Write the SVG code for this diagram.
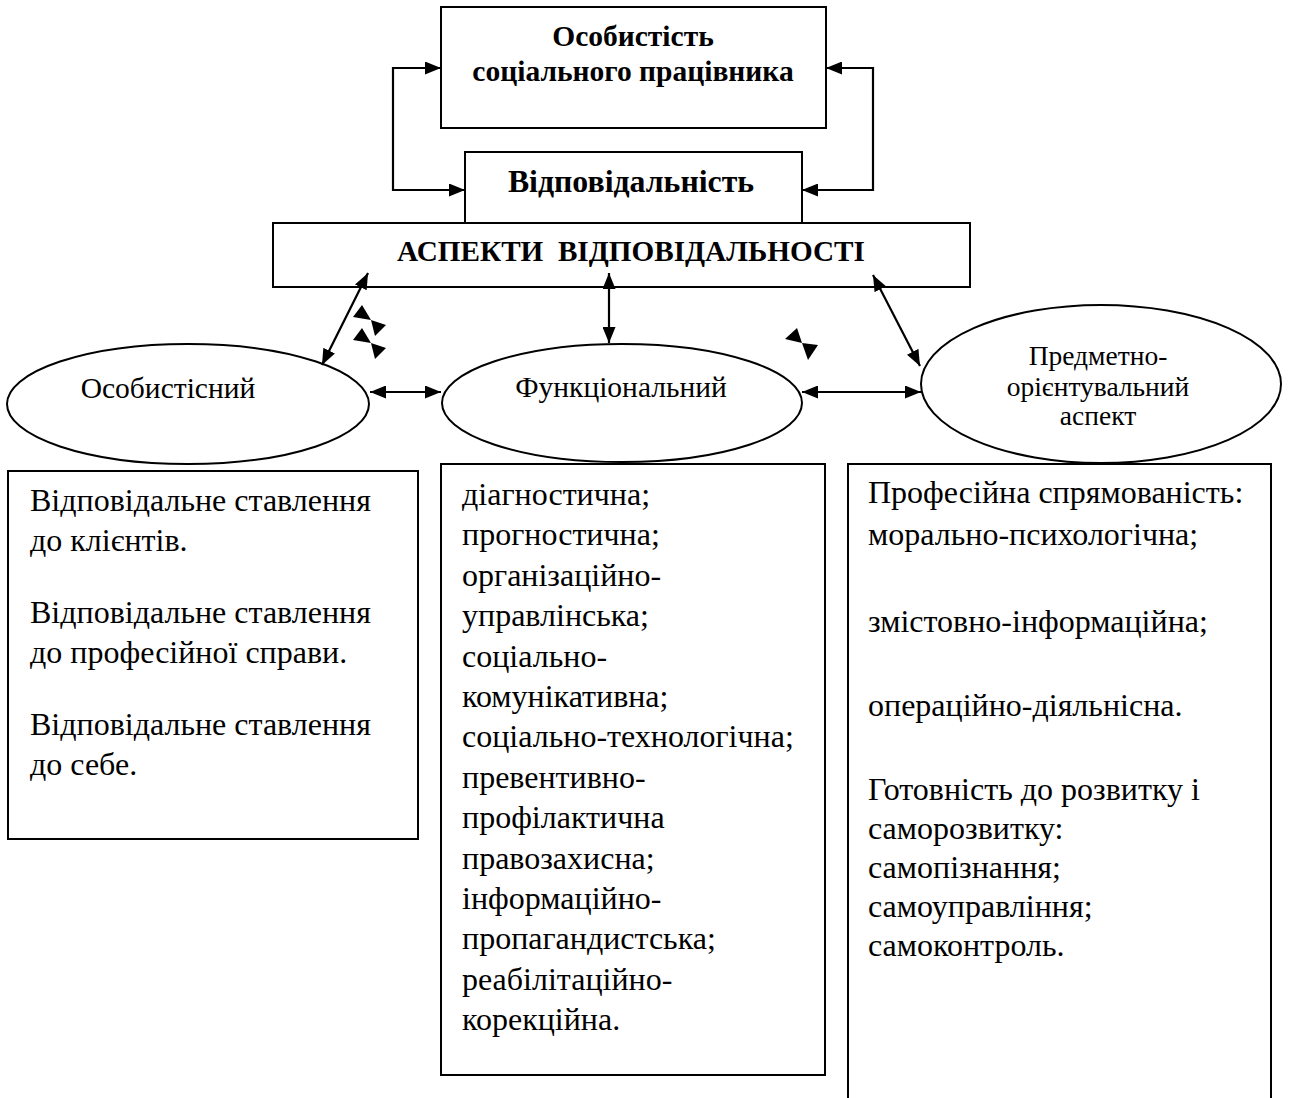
<svg xmlns="http://www.w3.org/2000/svg" width="1294" height="1098" viewBox="0 0 1294 1098">
<style>
.box{fill:#fff;stroke:#000;stroke-width:2}
.ell{fill:#fff;stroke:#000;stroke-width:2}
.t{font-family:"Liberation Serif","Times New Roman",serif;fill:#000}
.b{font-weight:bold;text-anchor:middle}
.body{font-size:32px}
.el{font-size:29.5px;text-anchor:middle}
.els{font-size:27.5px;text-anchor:middle}
.c{fill:none;stroke:#000;stroke-width:2.2}
.bt{fill:#000}
</style>
<defs>
<marker id="ah" viewBox="0 0 16 13" refX="16" refY="6.5" markerWidth="16" markerHeight="13" markerUnits="userSpaceOnUse" orient="auto-start-reverse">
<path d="M0,0 L16,6.5 L0,13 z" fill="#000"/>
</marker>
</defs>
<g id="node-personality">
<rect class="box" x="441" y="7" width="385" height="121"/>
<text class="t b" x="633" y="46" font-size="29.5">Особистість</text>
<text class="t b" x="633" y="81" font-size="29.5">соціального працівника</text>
</g>
<g id="node-responsibility">
<rect class="box" x="465" y="152" width="337" height="72"/>
<text class="t b" x="631" y="192" font-size="31.8">Відповідальність</text>
</g>
<g id="node-aspects">
<rect class="box" x="273" y="223" width="697" height="64"/>
<text class="t b" x="631" y="261" font-size="29.2" xml:space="preserve">АСПЕКТИ  ВІДПОВІДАЛЬНОСТІ</text>
</g>
<g id="node-personal">
<ellipse class="ell" cx="188" cy="404" rx="181" ry="60"/>
<text class="t el" x="168" y="398">Особистісний</text>
</g>
<g id="node-functional">
<ellipse class="ell" cx="622" cy="403" rx="180" ry="59"/>
<text class="t el" x="621" y="397">Функціональний</text>
</g>
<g id="node-subject">
<ellipse class="ell" cx="1101" cy="384" rx="180" ry="79"/>
<text class="t els" x="1098" y="365">Предметно-</text>
<text class="t els" x="1098" y="396">орієнтувальний</text>
<text class="t els" x="1098" y="425">аспект</text>
</g>
<g id="node-personal-list">
<rect class="box" x="8" y="471" width="410" height="368"/>
<text class="t body" x="30" y="511">Відповідальне ставлення</text>
<text class="t body" x="30" y="551">до клієнтів.</text>
<text class="t body" x="30" y="623">Відповідальне ставлення</text>
<text class="t body" x="30" y="663">до професійної справи.</text>
<text class="t body" x="30" y="735">Відповідальне ставлення</text>
<text class="t body" x="30" y="775">до себе.</text>
</g>
<g id="node-functional-list">
<rect class="box" x="441" y="464" width="384" height="611"/>
<text class="t body" x="462" y="505">діагностична;</text>
<text class="t body" x="462" y="545.4">прогностична;</text>
<text class="t body" x="462" y="585.8">організаційно-</text>
<text class="t body" x="462" y="626.2">управлінська;</text>
<text class="t body" x="462" y="666.6">соціально-</text>
<text class="t body" x="462" y="707">комунікативна;</text>
<text class="t body" x="462" y="747.4">соціально-технологічна;</text>
<text class="t body" x="462" y="787.8">превентивно-</text>
<text class="t body" x="462" y="828.2">профілактична</text>
<text class="t body" x="462" y="868.6">правозахисна;</text>
<text class="t body" x="462" y="909">інформаційно-</text>
<text class="t body" x="462" y="949.4">пропагандистська;</text>
<text class="t body" x="462" y="989.8">реабілітаційно-</text>
<text class="t body" x="462" y="1030">корекційна.</text>
</g>
<g id="node-subject-list">
<rect class="box" x="848" y="464" width="423" height="640"/>
<text class="t body" x="868" y="503">Професійна спрямованість:</text>
<text class="t body" x="868" y="545">морально-психологічна;</text>
<text class="t body" x="868" y="632">змістовно-інформаційна;</text>
<text class="t body" x="868" y="716">операційно-діяльнісна.</text>
<text class="t body" x="868" y="800">Готовність до розвитку і</text>
<text class="t body" x="868" y="839">саморозвитку:</text>
<text class="t body" x="868" y="878">самопізнання;</text>
<text class="t body" x="868" y="917">самоуправління;</text>
<text class="t body" x="868" y="956">самоконтроль.</text>
</g>
<g id="connectors">
<path class="c" d="M441,68 H393 V190 H465" marker-start="url(#ah)" marker-end="url(#ah)"/>
<path class="c" d="M826,68 H873 V190 H802" marker-start="url(#ah)" marker-end="url(#ah)"/>
<path class="c" d="M368,273 L322,365" marker-start="url(#ah)" marker-end="url(#ah)"/>
<path class="c" d="M609,273 V343" marker-start="url(#ah)" marker-end="url(#ah)"/>
<path class="c" d="M873,275 L920,366" marker-start="url(#ah)" marker-end="url(#ah)"/>
<path class="c" d="M370,392 H441" marker-start="url(#ah)" marker-end="url(#ah)"/>
<path class="c" d="M802,392 H921" marker-start="url(#ah)" marker-end="url(#ah)"/>
<polygon class="bt" points="362,305 353,317 371,320"/>
<polygon class="bt" points="371,320 386,325 375,336"/>
<polygon class="bt" points="362,328 353,340 371,343"/>
<polygon class="bt" points="371,343 386,348 375,359"/>
<polygon class="bt" points="797,328 785,339 802,343"/>
<polygon class="bt" points="802,343 818,345 808,360"/>
</g>
</svg>
